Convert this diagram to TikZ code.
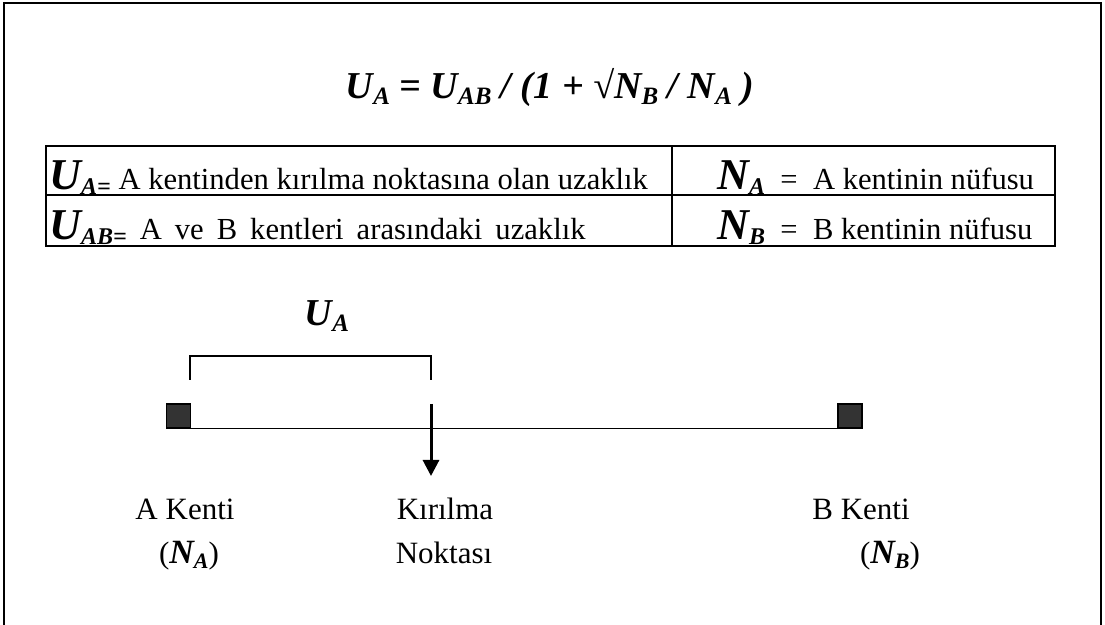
\documentclass[tikz,border=0pt]{standalone}
\usepackage{fontspec}
\setmainfont{Liberation Serif}
\usetikzlibrary{arrows.meta}

% lowered bold italic index
\newcommand\lowsub[2]{\raisebox{-0.3ex}{\fontsize{#1}{#1}\selectfont\bfseries\itshape #2}}
\newcommand\bsym[2]{{\fontsize{#1}{#1}\selectfont\bfseries\itshape #2}}

\begin{document}
\begin{tikzpicture}[
        x=0.5pt, y=-0.5pt,
        frame/.style={line width=1pt},
        tableline/.style={line width=1pt},
        cell/.style={
            anchor=base west,
            inner sep=0pt,
            font=\fontsize{15.3}{18}\selectfont
        },
        formula/.style={
            anchor=base,
            inner sep=0pt,
            font=\fontsize{19}{22}\selectfont\bfseries\itshape
        },
        label/.style={
            anchor=base,
            inner sep=0pt,
            font=\fontsize{15.5}{18}\selectfont
        },
        city/.style={
            draw,
            line width=0.6pt,
            fill=black!80,
            minimum size=12pt,
            inner sep=0pt
        },
        road/.style={line width=0.8pt},
        bracket/.style={line width=0.6pt},
        drop/.style={
            line width=1.5pt,
            -{Triangle[width=8pt,length=8pt]}
        }
    ]
    \useasboundingbox (0,0) rectangle (1105,625);

    % outer frame (open at the bottom)
    \draw[frame] (4,625) -- (4,3) -- (1101,3) -- (1101,625);

    \node[formula] (formula) at (550,99)
        {U\lowsub{12.5}{A} = U\lowsub{12.5}{AB} / (1 + √N\lowsub{12.5}{B} / N\lowsub{12.5}{A} )};

    % legend table
    \draw[tableline] (46,146) rectangle (1055,246);
    \draw[tableline] (46,195) -- (1055,195);
    \draw[tableline] (672,146) -- (672,246);

    \node[cell] (uadef) at (49,190)
        {\bsym{22}{U}\lowsub{12}{A=} A kentinden kırılma noktasına olan uzaklık};
    \node[cell] (uabdef) at (49,240)
        {\spaceskip=6.5pt\bsym{22}{U}\lowsub{12}{AB=} A ve B kentleri arasındaki uzaklık};
    \node[cell] (nadef) at (717,190)
        {\bsym{22}{N}\lowsub{12}{A}\ \ =\ \ A kentinin nüfusu};
    \node[cell] (nbdef) at (717,240)
        {\bsym{22}{N}\lowsub{12}{B}\ \ =\ \ B kentinin nüfusu};

    % cities and the road between them
    \node[city] (acity) at (178.5,416) {};
    \node[city] (bcity) at (850,416) {};
    \draw[road] (acity.south east) -- (bcity.south west);

    % distance bracket
    \coordinate (brA) at (190,380);
    \coordinate (brK) at (431,380);
    \draw[bracket] (brA) -- ++(0,-24) -| (brK);
    \node[formula] (ualabel) at (327,326) {U\lowsub{12.5}{A}};

    % breaking point
    \coordinate (kTop) at (431,404);
    \coordinate (kTip) at (431,476);
    \draw[drop] (kTop) -- (kTip);

    \node[label] (akenti) at (185,520) {A Kenti};
    \node[label] (na) at (189,564) {(\bsym{17}{N}\lowsub{11}{A})};
    \node[label] (kirilma) at (445,520) {Kırılma};
    \node[label] (noktasi) at (444,564) {Noktası};
    \node[label] (bkenti) at (861,520) {B Kenti};
    \node[label] (nb) at (890,564) {(\bsym{17}{N}\lowsub{11}{B})};
\end{tikzpicture}
\end{document}
